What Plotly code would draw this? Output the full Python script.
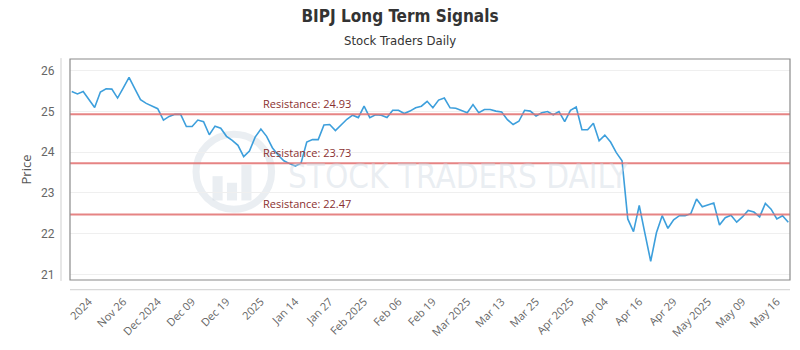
import plotly.graph_objects as go

title_text = "BIPJ Long Term Signals"
subtitle_text = "Stock Traders Daily"

prices = [25.49, 25.43, 25.49, 25.30, 25.10, 25.48, 25.56, 25.55, 25.33, 25.58,
          25.84, 25.56, 25.29, 25.20, 25.13, 25.07, 24.79, 24.88, 24.93, 24.93,
          24.63, 24.63, 24.79, 24.75, 24.43, 24.64, 24.59, 24.39, 24.29, 24.17,
          23.89, 24.03, 24.37, 24.57, 24.39, 24.11, 23.93, 23.79, 23.72, 23.66,
          23.73, 24.25, 24.31, 24.31, 24.67, 24.68, 24.53, 24.67, 24.81, 24.91,
          24.85, 25.13, 24.85, 24.92, 24.91, 24.85, 25.03, 25.03, 24.95, 25.01,
          25.09, 25.13, 25.25, 25.09, 25.28, 25.33, 25.09, 25.08, 25.03, 24.97,
          25.17, 24.97, 25.05, 25.05, 25.01, 24.99, 24.80, 24.68, 24.76, 25.03,
          25.01, 24.89, 24.97, 25.00, 24.92, 25.00, 24.75, 25.03, 25.11, 24.55,
          24.55, 24.71, 24.28, 24.42, 24.25, 23.99, 23.79, 22.36, 22.05, 22.69,
          22.00, 21.32, 22.02, 22.44, 22.13, 22.34, 22.44, 22.44, 22.49, 22.85,
          22.66, 22.71, 22.75, 22.21, 22.39, 22.45, 22.28, 22.41, 22.57, 22.53,
          22.41, 22.74, 22.60, 22.36, 22.44, 22.28]

tick_labels = ["2024", "Nov 26", "Dec 2024", "Dec 09", "Dec 19", "2025", "Jan 14",
               "Jan 27", "Feb 2025", "Feb 06", "Feb 19", "Mar 2025", "Mar 13",
               "Mar 25", "Apr 2025", "Apr 04", "Apr 16", "Apr 29", "May 2025",
               "May 09", "May 16"]
tick_index = [3, 9, 15, 21, 27, 33, 39, 45, 51, 57, 63, 69, 75, 81, 87, 93, 99,
              105, 111, 117, 123]

resistance_levels = [24.93, 23.73, 22.47]
y_ticks = [21, 22, 23, 24, 25, 26]

x_vals = list(range(len(prices)))

fig = go.Figure()
fig.add_trace(go.Scatter(x=x_vals, y=prices, mode="lines",
                         line=dict(color="#3d9fdc", width=1.6),
                         hoverinfo="skip", showlegend=False))

for lvl in resistance_levels:
    fig.add_hline(y=lvl, line=dict(color="rgba(226,110,110,0.85)", width=2), layer="above")
    fig.add_annotation(x=0.265, xref="paper", y=lvl, yref="y", xanchor="left",
                       yanchor="bottom", yshift=1, showarrow=False,
                       text=f"Resistance: {lvl:.2f}",
                       font=dict(family="Open Sans, sans-serif", size=11, color="#8a3030"))

# watermark
wm = "rgba(205,214,224,0.42)"
fig.add_shape(type="circle", xref="paper", yref="paper", x0=0.175, x1=0.28,
              y0=0.32, y1=0.66, line=dict(color=wm, width=7), layer="below")
for bx0, bx1, by1 in [(0.198, 0.212, 0.47), (0.218, 0.232, 0.44), (0.238, 0.252, 0.52)]:
    fig.add_shape(type="rect", xref="paper", yref="paper", x0=bx0, x1=bx1,
                  y0=0.36, y1=by1, line=dict(width=0), fillcolor=wm, layer="below")
fig.add_annotation(x=0.30, xref="paper", y=0.47, yref="paper", xanchor="left",
                   yanchor="middle", showarrow=False, text="STOCK TRADERS DAILY",
                   font=dict(family="Liberation Sans Narrow, DejaVu Sans Condensed, sans-serif",
                             size=33, color=wm))

# plot border and offset axis lines
fig.add_shape(type="rect", xref="paper", yref="paper", x0=0, x1=1, y0=0, y1=1,
              line=dict(color="#8a8a8a", width=1.2), layer="above")
fig.add_shape(type="line", xref="paper", yref="paper", x0=-0.0125, x1=-0.0125,
              y0=-0.004, y1=1.004, line=dict(color="#cfcfcf", width=1))
fig.add_shape(type="line", xref="paper", yref="paper", x0=0, x1=1,
              y0=-0.044, y1=-0.044, line=dict(color="#cfcfcf", width=1))

fig.update_layout(
    width=800, height=350,
    margin=dict(l=70, r=10, t=59, b=64),
    paper_bgcolor="white", plot_bgcolor="white",
    title=dict(text=f"<b>{title_text}</b>", x=0.5, xanchor="center",
               y=0.955, yanchor="middle",
               font=dict(family="Liberation Sans Narrow, DejaVu Sans Condensed, sans-serif",
                         size=17, color="#333333")),
)
fig.add_annotation(text=subtitle_text, x=(400 - 70) / 720, xref="paper", xanchor="center",
                   y=1.0 + (59 - 40) / 227, yref="paper", yanchor="middle",
                   showarrow=False,
                   font=dict(family="Liberation Sans Narrow, DejaVu Sans Condensed, sans-serif",
                             size=13, color="#333333"))

fig.update_xaxes(range=[-0.3, len(prices) - 0.7], tickvals=tick_index,
                 ticktext=tick_labels, tickangle=-45, showgrid=False,
                 zeroline=False, showline=False, ticks="outside", ticklen=10,
                 tickcolor="rgba(0,0,0,0)",
                 tickfont=dict(family="Open Sans, sans-serif", size=11, color="#666666"))
fig.update_yaxes(range=[20.86, 26.29], tickvals=y_ticks, showgrid=True,
                 gridcolor="#efefef", gridwidth=1, zeroline=False, showline=False,
                 ticks="outside", ticklen=12, tickcolor="rgba(0,0,0,0)",
                 title=dict(text="Price", standoff=6,
                            font=dict(family="Open Sans, sans-serif", size=13, color="#555555")),
                 tickfont=dict(family="Roboto, sans-serif", size=12, color="#666666"))

fig.write_html("out.html")
